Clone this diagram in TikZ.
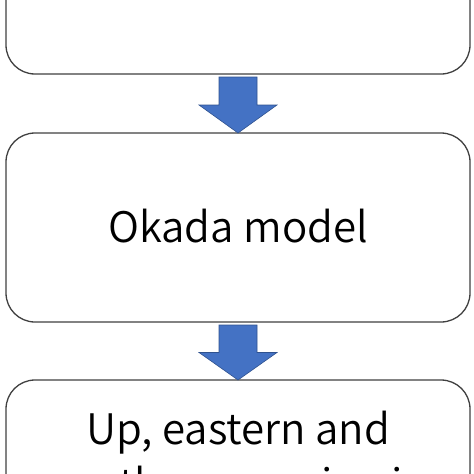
\documentclass[tikz,border=0pt]{standalone}
\usepackage{fontspec}
\setmainfont{Noto Sans CJK JP DemiLight}
\usepackage{tikz}
\usetikzlibrary{calc,positioning}
\definecolor{edge}{HTML}{404040}
\definecolor{flow}{HTML}{4472C4}
\definecolor{flowedge}{HTML}{2F528F}
\tikzset{
  stage/.style={draw=edge, fill=white, line width=1.3pt, rounded corners=29pt, minimum width=464pt, minimum height=189pt, inner sep=0pt, outer sep=0pt},
  stagetxt/.style={text=black, font=\fontsize{42}{51}\selectfont, inner sep=0pt},
  blockarr/.style={fill=flow, draw=flowedge, line width=0.6pt, line join=miter},
}
% block arrow from the bottom of one stage to the top of the next
\newcommand{\flowarrow}[2]{%
  \coordinate (#1-a) at ($(#1.south)+(0,3)$);
  \coordinate (#1-m) at ($(#1-a)!0.5!(#2.north)$);
  \filldraw[blockarr] ($(#1-a)+(-19,0)$) -- ($(#1-m)+(-19,0)$) -- ($(#1-m)+(-39,0)$)
    -- (#2.north) -- ($(#1-m)+(39,0)$) -- ($(#1-m)+(19,0)$) -- ($(#1-a)+(19,0)$) -- cycle;
}

\begin{document}
\begin{tikzpicture}[x=1pt,y=-1pt]
  \useasboundingbox (0,0) rectangle (474,474);
  \node[stage] (okada) at (238,227.5) {};
  \node[stage, above=59pt of okada] (source) {};
  \node[stage, below=58pt of okada] (disp) {};

  \node[stagetxt, anchor=base] (okadatxt) at ($(okada.center)+(0,14.5)$) {Okada model};
  \node[stagetxt, anchor=base] (disptxt) at ($(disp.north)+(0,64)$) {Up, eastern and};
  \node[stagetxt, anchor=base] (disptxtb) at ($(disp.north)+(0,119)$) {northern coseismic};

  \flowarrow{source}{okada}
  \flowarrow{okada}{disp}
\end{tikzpicture}
\end{document}
